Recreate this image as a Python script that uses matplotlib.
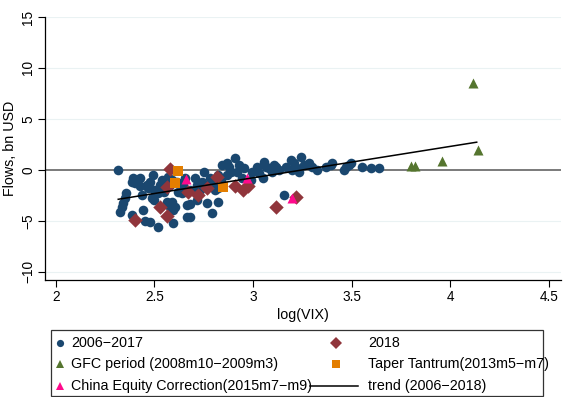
import matplotlib
matplotlib.use("Agg")
import matplotlib.pyplot as plt
from matplotlib.lines import Line2D
from matplotlib.patches import Rectangle

plt.rcParams['font.family'] = ['Liberation Sans', 'DejaVu Sans']

# --- monthly observations: log(VIX) vs flows (bn USD) ---
base_x = [2.315, 2.39, 2.41, 2.426, 2.385, 2.40, 2.461, 2.476, 2.492, 2.466,
          2.50, 2.527, 2.517, 2.436, 2.35, 2.34, 2.335, 2.325, 2.441, 2.385,
          2.451, 2.476, 2.517, 2.593, 2.486, 2.50, 2.567, 2.588, 2.613, 2.578,
          2.562, 2.588, 2.578, 2.593, 2.603, 2.618, 2.638, 2.663, 2.679, 2.663,
          2.679, 2.704, 2.714, 2.74, 2.714, 2.78, 2.79, 2.77, 2.805, 2.82,
          2.845, 2.866, 2.88, 2.906, 2.89, 2.87, 2.714, 2.765, 2.82, 2.79,
          2.921, 2.956, 2.946, 2.972, 2.997, 3.022, 3.032, 3.048, 3.068, 3.083,
          3.108, 3.098, 3.118, 3.158, 3.168, 3.194, 3.209, 3.224, 3.234, 3.199,
          3.244, 3.30, 3.285, 3.371, 3.396, 3.401, 3.461, 3.487, 3.497, 3.472,
          3.553, 3.598, 3.638, 2.356, 2.426, 2.537, 2.643, 2.754, 2.82, 2.931,
          2.992, 3.057, 3.133, 3.259, 3.325, 2.73, 2.679, 2.547, 2.653, 2.84]
base_y = [0.0, -0.79, -0.98, -0.79, -1.18, -1.28, -1.47, -1.18, -0.49, -1.77,
          -1.97, -1.47, -2.26, -2.46, -2.75, -3.24, -3.64, -4.13, -3.93, -4.42,
          -5.01, -5.11, -5.6, -5.21, -2.75, -2.95, -0.69, -0.98, -1.18, -1.47,
          -3.15, -3.15, -3.64, -3.93, -3.64, -2.16, -2.26, -3.44, -3.34, -4.62,
          -4.62, -0.79, -1.77, -1.18, -1.47, -0.79, -1.28, -1.47, -1.97, -1.77,
          0.49, 0.69, 0.29, 1.18, -0.2, -0.49, -2.95, -3.24, -3.15, -4.23,
          -0.2, 0.2, -0.79, -1.47, -0.2, 0.29, -0.29, -0.79, 0.29, 0.2,
          0.49, -0.2, 0.29, -2.46, 0.29, 0.98, 0.69, 0.2, -0.2, 0.0,
          1.28, 0.29, 0.69, 0.29, 0.49, 0.69, 0.0, 0.49, 0.69, 0.29,
          0.29, 0.2, 0.2, -2.26, -1.57, -0.98, -1.47, -0.2, -0.49, 0.49,
          -0.98, 0.79, 0.0, 0.49, 0.0, -1.97, -1.97, -2.16, -0.79, -0.98]

y2018_x = [2.40, 2.527, 2.562, 2.578, 2.562, 2.668, 2.719, 2.765, 2.815, 2.906,
           2.951, 2.972, 3.118, 3.219]
y2018_y = [-4.92, -3.64, -4.52, 0.1, -1.67, -2.16, -2.46, -1.77, -0.69, -1.57,
           -1.97, -1.57, -3.64, -2.65]

gfc_x = [3.80, 3.82, 3.956, 4.113, 4.139]
gfc_y = [0.4, 0.4, 0.9, 8.55, 2.0]

taper_x = [2.618, 2.605, 2.848]
taper_y = [-0.1, -1.28, -1.67]

china_x = [2.66, 2.967, 3.195]
china_y = [-0.9, -0.75, -2.75]

trend_x = [2.317, 4.133]
trend_y = [-2.88, 2.72]

xticks = [2, 2.5, 3, 3.5, 4, 4.5]
yticks = [-10, -5, 0, 5, 10, 15]

navy = '#1a476f'
maroon = '#90353b'
green = '#55752f'
orange = '#e37e00'
pink = '#ff0a8c'

W, H = 563, 397
fig = plt.figure(figsize=(W / 100, H / 100), dpi=100)
ax = fig.add_axes([45 / W, 1 - 280 / H, (561 - 45) / W, (280 - 16.5) / H])

# grid lines and the zero line
for yv in yticks:
    if yv == 0:
        ax.axhline(yv, color='#7a7a7a', lw=1.4, zorder=1)
    else:
        ax.axhline(yv, color='#eaf2f3', lw=0.8, zorder=0)

ms = 48
ax.scatter(base_x, base_y, s=ms, marker='o', color=navy, linewidths=0, zorder=3)
ax.scatter(y2018_x, y2018_y, s=ms + 6, marker='D', color=maroon, linewidths=0, zorder=4)
ax.scatter(gfc_x, gfc_y, s=ms + 4, marker='^', color=green, linewidths=0, zorder=4)
ax.scatter(taper_x, taper_y, s=ms - 4, marker='s', color=orange, linewidths=0, zorder=4)
ax.scatter(china_x, china_y, s=ms + 4, marker='^', color=pink, linewidths=0, zorder=4)
ax.plot(trend_x, trend_y, color='black', lw=1.1, zorder=5)

ax.set_xlim(1.946, 4.56)
ax.set_ylim(-10.8, 15.05)
ax.set_xticks(xticks)
ax.set_xticklabels([str(t) for t in xticks])
ax.set_yticks(yticks)
ax.set_yticklabels([str(t).replace('-', '\u2212') for t in yticks],
                   rotation=90, va='center')
ax.tick_params(labelsize=9.8, length=5, width=0.8, color='black', pad=2)
ax.spines['top'].set_visible(False)
ax.spines['right'].set_visible(False)
for s in ('left', 'bottom'):
    ax.spines[s].set_linewidth(0.9)
ax.set_xlabel('log(VIX)', fontsize=10.3, labelpad=3)
ax.set_ylabel('Flows, bn USD', fontsize=10.3, labelpad=3)

# legend box drawn in figure pixel coordinates
def fx(px):
    return px / W


def fy(py):
    return 1 - py / H


fig.add_artist(Rectangle((fx(51), fy(396)), fx(543) - fx(51), fy(330) - fy(396),
                         transform=fig.transFigure, fill=False,
                         edgecolor='#333333', lw=0.9))

rows = [343, 364, 386]
lfs = 10.3
entries = [
    (60, rows[0], 'o', navy, 5.2, '2006\u22122017', 71),
    (60, rows[1], '^', green, 6, 'GFC period (2008m10\u22122009m3)', 71),
    (60, rows[2], '^', pink, 6, 'China Equity Correction(2015m7\u2212m9)', 71),
    (336, rows[0], 'D', maroon, 6, '2018', 368),
    (336, rows[1], 's', orange, 5.2, 'Taper Tantrum(2013m5\u2212m7)', 368),
]
for mx, my, mk, col, size, label, tx in entries:
    fig.add_artist(Line2D([fx(mx)], [fy(my)], marker=mk, color=col,
                          markersize=size, markeredgewidth=0,
                          transform=fig.transFigure))
    fig.text(fx(tx), fy(my), label, fontsize=lfs, va='center', ha='left')

fig.add_artist(Line2D([fx(310), fx(358)], [fy(rows[2]), fy(rows[2])],
                      color='black', lw=1.1, transform=fig.transFigure))
fig.text(fx(368), fy(rows[2]), 'trend (2006\u22122018)', fontsize=lfs,
         va='center', ha='left')

fig.savefig('out.png', dpi=100)
